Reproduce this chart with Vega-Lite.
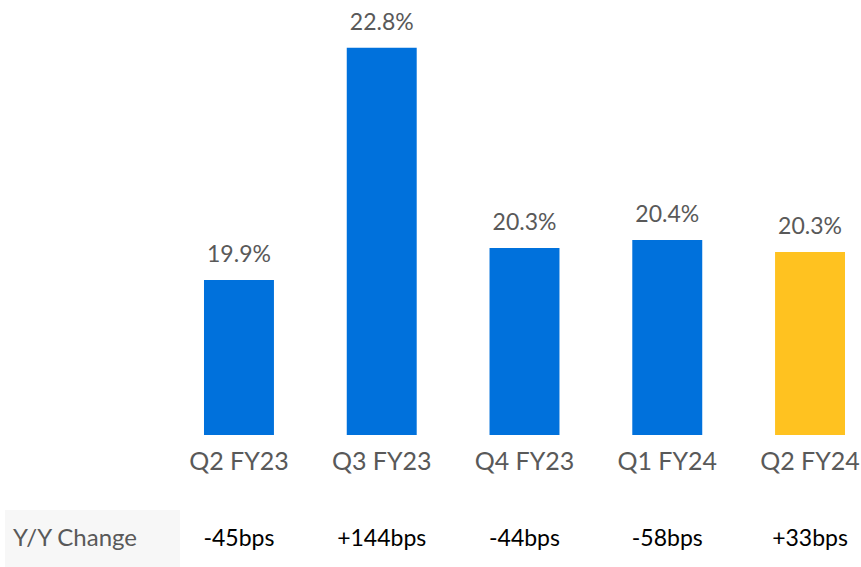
{
  "$schema": "https://vega.github.io/schema/vega-lite/v6.json",
  "padding": {"left": 5, "top": 0, "right": 0, "bottom": 0},
  "background": "white",
  "config": {"view": {"stroke": null}, "font": "Lato", "text": {"font": "Lato"}},
  "datasets": {
    "q": [
      {"quarter": "Q2 FY23", "margin": 19.9, "label": "19.9%", "change": "-45bps"},
      {"quarter": "Q3 FY23", "margin": 22.8, "label": "22.8%", "change": "+144bps"},
      {"quarter": "Q4 FY23", "margin": 20.3, "label": "20.3%", "change": "-44bps"},
      {"quarter": "Q1 FY24", "margin": 20.4, "label": "20.4%", "change": "-58bps"},
      {"quarter": "Q2 FY24", "margin": 20.25, "label": "20.3%", "change": "+33bps"}
    ],
    "rowlabel": [{"name": "Y/Y Change"}]
  },
  "columns": 2,
  "spacing": {"row": 36, "column": 8},
  "resolve": {"scale": {"x": "independent", "y": "independent"}},
  "concat": [
    {"width": 175, "height": 435, "data": {"values": []}, "mark": "text", "encoding": {}},
    {
      "width": 669, "height": 435,
      "data": {"name": "q"},
      "encoding": {
        "x": {"field": "quarter", "type": "nominal", "sort": null,
              "scale": {"type": "band", "paddingInner": 0.51, "paddingOuter": 0.098},
              "axis": {"title": null, "labelAngle": 0, "ticks": false, "domain": false, "labelFontSize": 25, "labelColor": "#595959", "labelPadding": 14, "labelFont": "Lato"}},
        "y": {"field": "margin", "type": "quantitative", "scale": {"domain": [17.965, 23.395], "zero": false, "nice": false}, "axis": null}
      },
      "layer": [
        {"mark": {"type": "bar"},
         "encoding": {
           "y2": {"datum": 17.965},
           "color": {"condition": {"test": "datum.quarter === 'Q2 FY24'", "value": "#FFC220"}, "value": "#0071DC"}}},
        {"mark": {"type": "text", "baseline": "alphabetic", "dy": -18, "fontSize": 23, "color": "#595959"},
         "encoding": {"text": {"field": "label"}}}
      ]
    },
    {
      "width": 175, "height": 57,
      "data": {"name": "rowlabel"},
      "view": {"fill": "#f7f7f7"},
      "mark": {"type": "text", "align": "left", "fontSize": 24, "color": "#595959"},
      "encoding": {
        "x": {"field": "name", "type": "nominal", "bandPosition": 0, "scale": {"type": "band", "paddingInner": 0, "paddingOuter": 0.0503}, "axis": null},
        "text": {"field": "name"}
      }
    },
    {
      "width": 669, "height": 57,
      "data": {"name": "q"},
      "mark": {"type": "text", "fontSize": 23, "color": "#000000"},
      "encoding": {
        "x": {"field": "quarter", "type": "nominal", "sort": null, "scale": {"type": "band", "paddingInner": 0.51, "paddingOuter": 0.098}, "axis": null},
        "text": {"field": "change"}
      }
    }
  ]
}
